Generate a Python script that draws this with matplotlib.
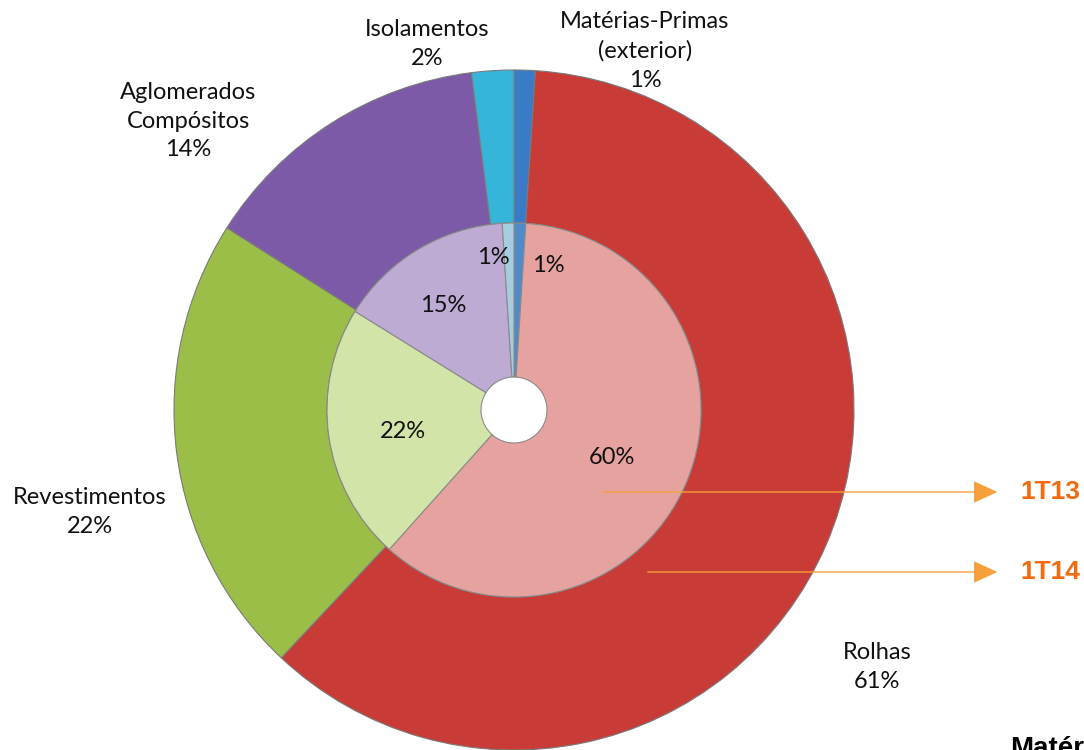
import matplotlib.pyplot as plt
from matplotlib.patches import FancyArrowPatch

categories = ['Matérias-Primas\n(exterior)', 'Rolhas', 'Revestimentos',
              'Aglomerados\nCompósitos', 'Isolamentos']
share_1t14 = [1, 61, 22, 14, 2]   # outer ring
share_1t13 = [1, 60, 22, 15, 1]   # inner ring

outer_colors = ['#3A7BC8', '#C93B36', '#9BBE48', '#7D5AA8', '#35B5DA']
inner_colors = ['#4F8BC9', '#E6A29F', '#D3E4A8', '#BDABD4', '#A6CCE0']

W, H = 1084, 750
fig = plt.figure(figsize=(W / 100, H / 100), dpi=100)
ax = fig.add_axes([0, 0, 1, 1])

cx, cy = 514, H - 410  # pie centre in pixel units (y up)
r_out, r_mid, r_hole = 340, 187, 33

ax.pie(share_1t14, radius=r_out, center=(cx, cy), colors=outer_colors,
       startangle=90, counterclock=False,
       wedgeprops=dict(width=r_out - r_mid, edgecolor='#7a7a7a', linewidth=0.8))
ax.pie(share_1t13, radius=r_mid, center=(cx, cy), colors=inner_colors,
       startangle=90, counterclock=False,
       wedgeprops=dict(width=r_mid - r_hole, edgecolor='#8a8a8a', linewidth=0.8))

ax.set_xlim(0, W)
ax.set_ylim(0, H)
ax.set_aspect('equal')
ax.axis('off')

font = 'Lato'
fs = 17

# outer labels (category + 1T14 share)
outer_pos = [(645, 51), (877, 667), (90, 512), (188, 121), (427, 44)]
for cat, val, (x, y) in zip(categories, share_1t14, outer_pos):
    ax.text(x, H - y, f'{cat}\n{val}%', ha='center', va='center',
            fontsize=fs, family=font, linespacing=1.45, color='#111111')

# inner labels (1T13 share)
inner_pos = [(548, 266), (612, 457), (403, 432), (443, 305), (493, 258)]
for val, (x, y) in zip(share_1t13, inner_pos):
    ax.text(x, H - y, f'{val}%', ha='center', va='center',
            fontsize=fs, family=font, color='#111111')

# ring pointers
for name, x0, y in [('1T13', 600, 492), ('1T14', 645, 572)]:
    ax.add_patch(FancyArrowPatch((x0, H - y), (1000, H - y),
                                 arrowstyle='-|>,head_length=15,head_width=7',
                                 color='#F5A03A', linewidth=1, mutation_scale=1))
    ax.text(1020, H - y, name, ha='left', va='center', fontsize=19,
            fontweight='bold', family='Liberation Sans', color='#F26B0F')

ax.text(1010, H - 756, 'Matérias-Primas', ha='left', va='baseline', fontsize=20,
        fontweight='bold', family='Liberation Sans', color='black')

fig.savefig('out.png', dpi=100)
